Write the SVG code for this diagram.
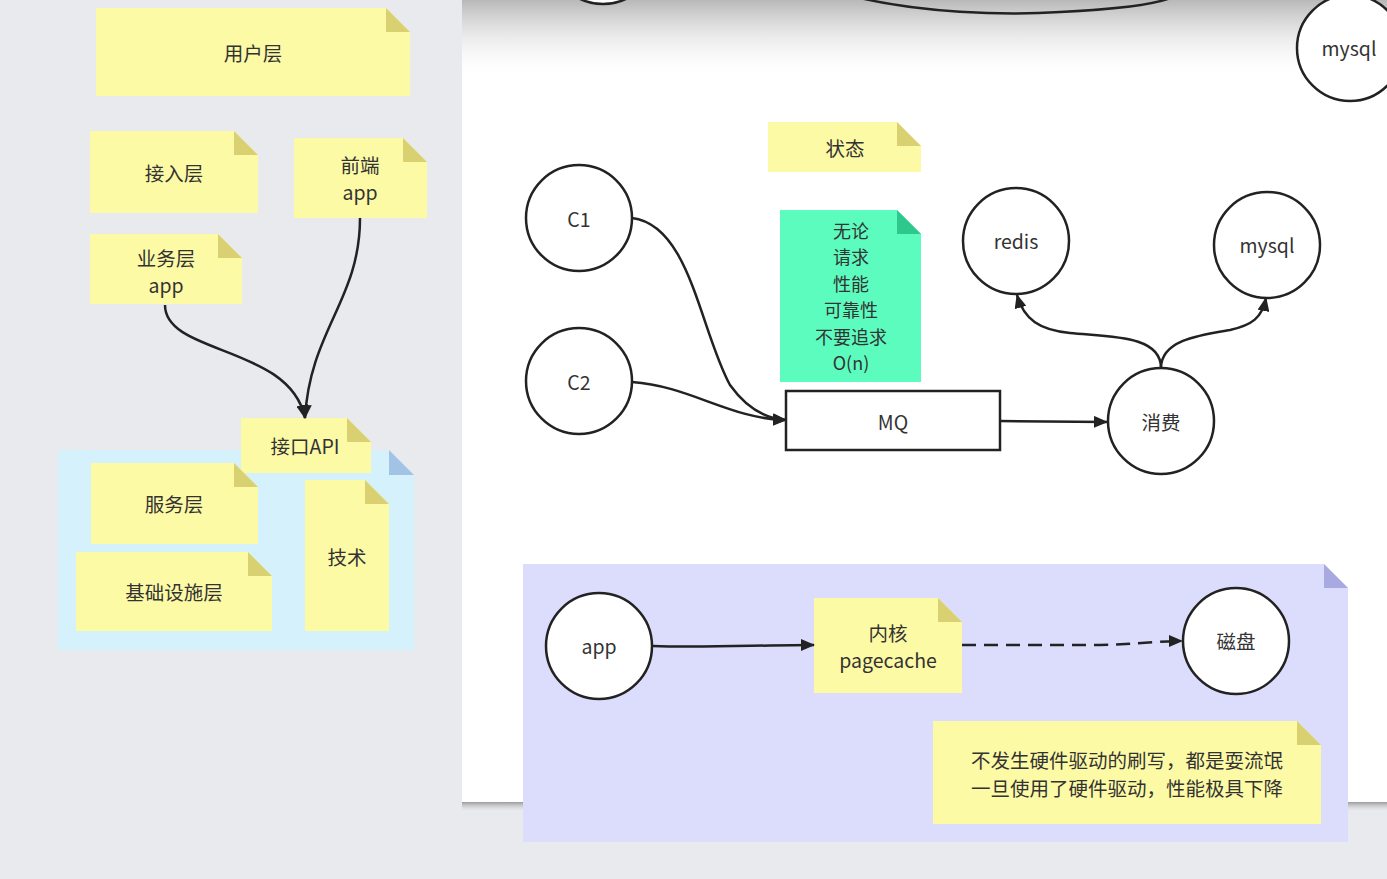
<svg xmlns="http://www.w3.org/2000/svg" width="1387" height="879" viewBox="0 0 1387 879">
<defs>
<style>
.t{font-family:"Noto Sans CJK SC","Liberation Sans",sans-serif;font-size:19.5px;fill:#333;text-anchor:middle;dominant-baseline:central}
.g{font-size:18px}
.note{fill:#fdfaa6}
.fold{fill:#d9d072}
.circ{fill:#fff;stroke:#222;stroke-width:2.5}
.edge{fill:none;stroke:#222;stroke-width:2.5}
</style>
<marker id="ah" viewBox="0 0 14 12" refX="13" refY="6" markerWidth="14" markerHeight="12" markerUnits="userSpaceOnUse" orient="auto">
<path d="M0,0 L14,6 L0,12 Z" fill="#222"/>
</marker>
<linearGradient id="topg" x1="0" y1="0" x2="0" y2="1">
<stop offset="0" stop-color="#b8b8b8"/>
<stop offset="1" stop-color="#ffffff" stop-opacity="0"/>
</linearGradient>
<linearGradient id="shd" x1="0" y1="0" x2="0" y2="1">
<stop offset="0" stop-color="#9a9a9a"/>
<stop offset="1" stop-color="#e9eaee" stop-opacity="0"/>
</linearGradient>
</defs>
<rect x="0" y="0" width="1387" height="879" fill="#e9eaee"/>
<!-- white panel -->
<rect x="462" y="802" width="925" height="10" fill="url(#shd)"/>
<rect x="462" y="0" width="925" height="802" fill="#fff"/>
<rect x="462" y="0" width="925" height="80" fill="url(#topg)"/>

<!-- left notes -->
<g id="n-user"><path class="note" d="M96,8 H386 L410,32 V96 H96 Z"/><path class="fold" d="M386,8 V32 H410 Z"/><text class="t" x="253" y="52">用户层</text></g>
<g id="n-access"><path class="note" d="M90,131 H234 L258,155 V213 H90 Z"/><path class="fold" d="M234,131 V155 H258 Z"/><text class="t" x="174" y="172">接入层</text></g>
<g id="n-front"><path class="note" d="M294,138 H403 L427,162 V218 H294 Z"/><path class="fold" d="M403,138 V162 H427 Z"/><text class="t" x="360" y="164">前端<tspan x="360" dy="27">app</tspan></text></g>
<g id="n-biz"><path class="note" d="M90,234 H218 L242,258 V304 H90 Z"/><path class="fold" d="M218,234 V258 H242 Z"/><text class="t" x="166" y="257">业务层<tspan x="166" dy="27">app</tspan></text></g>
<g id="n-container"><path d="M58,450 H389 L414,475 V650 H58 Z" fill="#d5f2fc"/><path d="M389,450 V475 H414 Z" fill="#a3c3e6"/></g>
<g id="n-api"><path class="note" d="M241,418 H347 L371,442 V473 H241 Z"/><path class="fold" d="M347,418 V442 H371 Z"/><text class="t" x="305" y="445">接口API</text></g>
<g id="n-service"><path class="note" d="M91,463 H234 L258,487 V544 H91 Z"/><path class="fold" d="M234,463 V487 H258 Z"/><text class="t" x="174" y="503">服务层</text></g>
<g id="n-infra"><path class="note" d="M76,552 H248 L272,576 V631 H76 Z"/><path class="fold" d="M248,552 V576 H272 Z"/><text class="t" x="174" y="591">基础设施层</text></g>
<g id="n-tech"><path class="note" d="M305,480 H365 L389,504 V631 H305 Z"/><path class="fold" d="M365,480 V504 H389 Z"/><text class="t" x="347" y="556">技术</text></g>

<!-- top partial shapes -->
<g id="n-top-partial"><circle cx="603" cy="-49" r="53" class="circ"/></g>
<g id="n-mysql-top"><circle cx="1350" cy="48" r="53" class="circ"/><text class="t" x="1349" y="47">mysql</text></g>

<!-- middle -->
<g id="n-state"><path class="note" d="M768,122 H897 L921,146 V172 H768 Z"/><path class="fold" d="M897,122 V146 H921 Z"/><text class="t" x="845" y="147">状态</text></g>
<g id="n-green"><path d="M780,210 H897 L921,234 V382 H780 Z" fill="#5cfcbf"/><path d="M897,210 V234 H921 Z" fill="#2ec88c"/>
<text class="t g" x="851" y="230">无论<tspan x="851" dy="26.4">请求</tspan><tspan x="851" dy="26.4">性能</tspan><tspan x="851" dy="26.4">可靠性</tspan><tspan x="851" dy="26.4">不要追求</tspan><tspan x="851" dy="26.4">O(n)</tspan></text></g>
<g id="n-c1"><circle cx="579" cy="218" r="53" class="circ"/><text class="t" x="579" y="218">C1</text></g>
<g id="n-c2"><circle cx="579" cy="381" r="53" class="circ"/><text class="t" x="579" y="381">C2</text></g>
<g id="n-mq"><rect x="786" y="391" width="214" height="59" fill="#fff" stroke="#222" stroke-width="2.5"/><text class="t" x="893" y="421">MQ</text></g>
<g id="n-consume"><circle cx="1161" cy="421" r="53" class="circ"/><text class="t" x="1161" y="421">消费</text></g>
<g id="n-redis"><circle cx="1016" cy="241" r="53" class="circ"/><text class="t" x="1016" y="240">redis</text></g>
<g id="n-mysql"><circle cx="1267" cy="245" r="53" class="circ"/><text class="t" x="1267" y="244">mysql</text></g>

<!-- lavender -->
<g id="n-lav"><path d="M523,564 H1324 L1348,588 V842 H523 Z" fill="#dcdcfd"/><path d="M1324,564 V588 H1348 Z" fill="#a9a9e2"/></g>
<g id="n-app"><circle cx="599" cy="646" r="53" class="circ"/><text class="t" x="599" y="645">app</text></g>
<g id="n-kernel"><path class="note" d="M814,598 H938 L962,622 V693 H814 Z"/><path class="fold" d="M938,598 V622 H962 Z"/><text class="t" x="888" y="632">内核<tspan x="888" dy="27">pagecache</tspan></text></g>
<g id="n-disk"><circle cx="1236" cy="641" r="53" class="circ"/><text class="t" x="1236" y="640">磁盘</text></g>
<g id="n-remark"><path class="note" d="M933,721 H1297 L1321,745 V824 H933 Z"/><path class="fold" d="M1297,721 V745 H1321 Z"/><text class="t" x="1127" y="759">不发生硬件驱动的刷写，都是耍流氓<tspan x="1127" dy="28">一旦使用了硬件驱动，性能极具下降</tspan></text></g>

<g id="connectors">
<path class="edge" d="M860,-2 C920,12 1000,16 1060,12 C1120,9 1160,4 1175,-4"/>
<path class="edge" marker-end="url(#ah)" d="M165,305 C165,355 290,345 305,418"/>
<path class="edge" marker-end="url(#ah)" d="M360,218 C360,300 310,330 305,418"/>
<path class="edge" marker-end="url(#ah)" d="M632,218 C690,225 700,330 730,385 C750,413 770,419 786,420"/>
<path class="edge" marker-end="url(#ah)" d="M632,382 C690,386 730,419 786,420"/>
<path class="edge" marker-end="url(#ah)" d="M1000,421 L1107,422"/>
<path class="edge" marker-end="url(#ah)" d="M1161,368 C1161,335 1110,337 1070,333 C1040,330 1024,320 1017,295"/>
<path class="edge" marker-end="url(#ah)" d="M1161,368 C1161,340 1200,335 1230,330 C1252,325 1262,318 1266,298"/>
<path class="edge" marker-end="url(#ah)" d="M653,646 C700,648 760,645 814,645"/>
<path class="edge" stroke-width="3" stroke-dasharray="14,8" marker-end="url(#ah)" d="M962,645 L1100,645 C1140,644 1160,641 1182,641"/>
</g>
</svg>
